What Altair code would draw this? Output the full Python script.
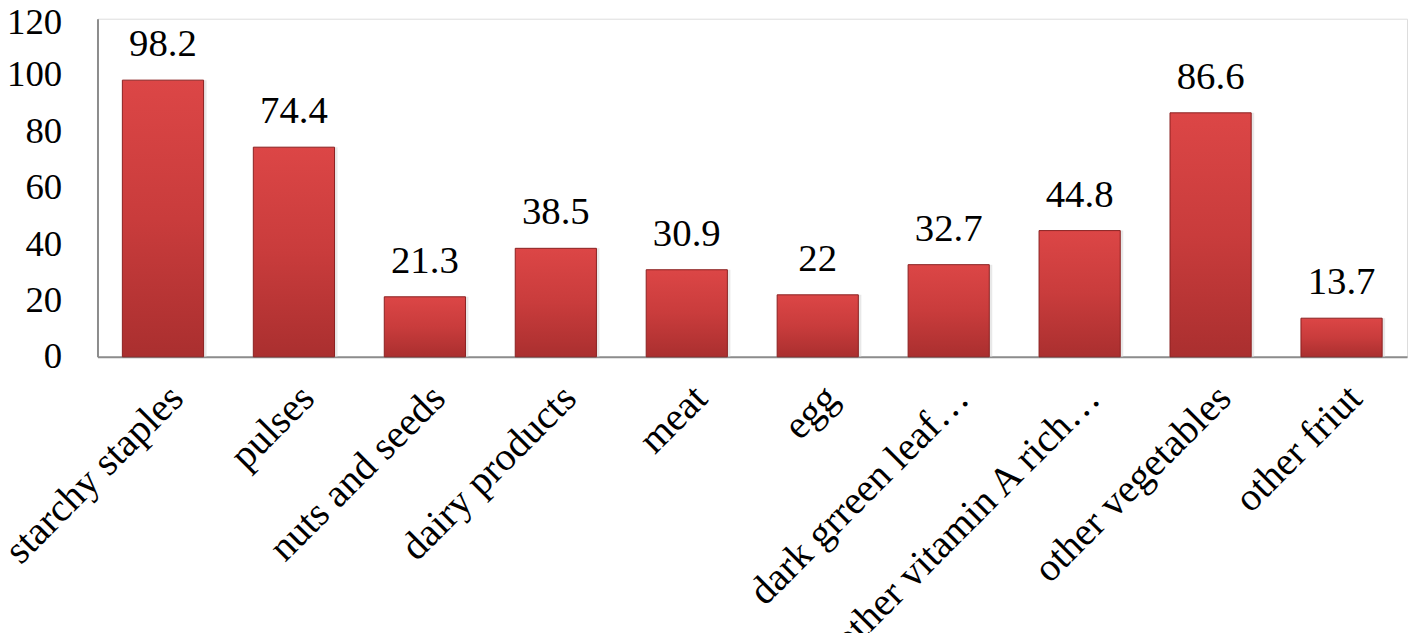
import altair as alt
import pandas as pd

categories = ["starchy staples", "pulses", "nuts and seeds", "dairy products", "meat",
              "egg", "dark grreen leaf…", "other vitamin A rich…", "other vegetables", "other friut"]
values = [98.2, 74.4, 21.3, 38.5, 30.9, 22, 32.7, 44.8, 86.6, 13.7]
labels = ["98.2", "74.4", "21.3", "38.5", "30.9", "22", "32.7", "44.8", "86.6", "13.7"]

df = pd.DataFrame({"cat": categories, "val": values, "lab": labels})

FONT = "Liberation Serif, Times New Roman, serif"

x = alt.X("cat:N", sort=categories, title=None,
          scale=alt.Scale(paddingInner=0.38, paddingOuter=0.19),
          axis=alt.Axis(labelAngle=-45, labelAlign="right", labelBaseline="top",
                        labelFontSize=40, labelFont=FONT, labelColor="black",
                        ticks=False, domainColor="#8c8c8c", domainWidth=2,
                        labelPadding=21, labelLimit=500))
y = alt.Y("val:Q", title=None,
          scale=alt.Scale(domain=[0, 120], nice=False),
          axis=alt.Axis(values=[0, 20, 40, 60, 80, 100, 120], grid=False, ticks=False,
                        labelFontSize=37, labelFont=FONT, labelColor="black",
                        labelOffset={"condition": {"test": "datum.value == 120", "value": 4}, "value": 0},
                        domainColor="#8c8c8c", domainWidth=2, labelPadding=36))

grad = alt.Gradient(gradient="linear", x1=0, y1=0, x2=0, y2=1,
                    stops=[alt.GradientStop(color="#dc4646", offset=0),
                           alt.GradientStop(color="#c93c3c", offset=0.5),
                           alt.GradientStop(color="#aa2f2f", offset=1)])

shadow = alt.Chart(df).mark_bar(color="#d8d8d8", opacity=0.6, xOffset=3).encode(
    x=x, y=y)
bars = alt.Chart(df).mark_bar(color=grad, stroke="#8a2020", strokeWidth=1).encode(x=x, y=y)
text = alt.Chart(df).mark_text(baseline="alphabetic", dy=-24, fontSize=39, font=FONT,
                               color="black").encode(x=x, y=y, text="lab:N")

chart = alt.layer(shadow, bars, text).properties(
    width=1317, height=340,
    autosize=alt.AutoSizeParams(type="none"),
    padding={"left": 90, "top": 9, "right": 6, "bottom": 276},
).configure_view(stroke=None).configure_text(font=FONT).configure(background="white")

chart.save("out.html", embed_options={"renderer": "svg", "actions": False})
